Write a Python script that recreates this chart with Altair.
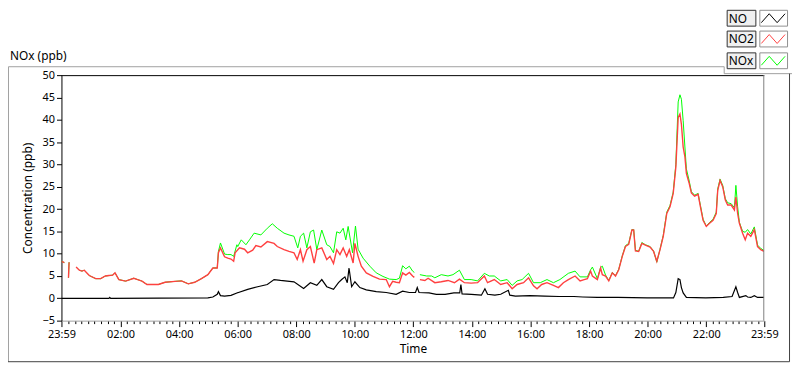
import altair as alt
import pandas as pd

# ---------------- data (hours since 23:59 of previous day, ppb) ----------------
no2_t = [0.00, 0.10, 0.17, 0.24, 0.26, 0.40, 0.50, 0.61, 0.70, 0.78, 0.95, 1.17, 1.34, 1.50, 1.62, 1.75, 1.83, 1.96,
         2.19, 2.47, 2.60, 2.75, 2.92, 3.10, 3.31, 3.54, 3.88, 4.10, 4.33, 4.55, 4.78, 5.00, 5.17, 5.32, 5.36, 5.43,
         5.57, 5.68, 5.79, 5.88, 5.93, 6.08, 6.25, 6.36, 6.53, 6.64, 6.81, 7.03, 7.26, 7.37, 7.60, 7.77, 7.94, 8.05,
         8.16, 8.25, 8.38, 8.50, 8.63, 8.72, 8.89, 9.06, 9.17, 9.29, 9.40, 9.51, 9.62, 9.74, 9.83, 9.96, 10.02, 10.13,
         10.24, 10.41, 10.64, 10.86, 11.09, 11.20, 11.31, 11.43, 11.54, 11.65, 11.76, 11.88, 11.99, 12.05, 12.15,
         12.24, 12.41, 12.52, 12.75, 12.97, 13.20, 13.42, 13.59, 13.76, 13.99, 14.21, 14.44, 14.55, 14.78, 15.00,
         15.22, 15.39, 15.56, 15.78, 15.95, 16.12, 16.24, 16.40, 16.58, 16.80, 16.97, 17.14, 17.31, 17.54, 17.71,
         17.85, 17.96, 18.07, 18.13, 18.30, 18.41, 18.47, 18.58, 18.69, 18.81, 18.92, 19.03, 19.15, 19.26, 19.37,
         19.48, 19.54, 19.60, 19.71, 19.82, 19.94, 20.10, 20.22, 20.33, 20.44, 20.55, 20.67, 20.78, 20.89, 20.98,
         21.06, 21.12, 21.17, 21.23, 21.29, 21.34, 21.43, 21.51, 21.62, 21.74, 21.82, 21.91, 22.02, 22.13, 22.25,
         22.36, 22.41, 22.49, 22.58, 22.67, 22.75, 22.87, 22.98, 23.03, 23.09, 23.15, 23.26, 23.35, 23.43, 23.54,
         23.66, 23.77, 23.88, 23.99]
no2_v = [8.3, 8.0, None, 4.6, 8.1, None, 7.0, 6.3, 6.1, 6.3, 5.1, 4.4, 4.4, 5.0, 5.1, 5.2, 5.7, 4.2,
         3.85, 4.5, 4.2, 3.85, 3.1, 3.1, 3.1, 3.6, 3.8, 3.9, 3.25, 3.6, 4.4, 5.3, 6.8, 6.8, 10.2, 11.3,
         9.3, 9.0, 8.8, 8.3, 10.2, 11.3, 11.0, 10.2, 10.8, 11.8, 11.5, 12.7, 12.3, 11.6, 10.9, 10.5, 10.2, 8.7,
         10.9, 8.3, 10.9, 11.6, 7.9, 10.9, 11.3, 8.7, 9.4, 7.8, 10.9, 9.8, 11.3, 9.4, 10.9, 7.9, 12.3, 9.4,
         7.2, 5.7, 4.9, 4.3, 4.2, 2.6, 3.8, 3.6, 3.5, 5.7, 5.2, 5.8, 5.0, 4.7, None,
         4.2, 4.0, 4.5, 3.5, 3.7, 4.0, 3.5, 4.3, 3.5, 3.4, 3.5, 5.0, 3.5, 4.2, 3.1,
         3.5, 2.15, 3.1, 3.5, 4.6, 2.8, 2.15, 3.1, 3.5, 2.9, 2.4, 3.5, 4.2, 5.0, 3.9,
         4.2, 4.4, 6.1, 5.0, 4.2, 6.8, 5.3, 5.0, 3.9, 5.7, 5.0, 6.4, 9.4, 11.6, 12.1,
         15.3, 15.3, 10.6, 10.5, 12.3, 11.9, 11.5, 10.5, 8.3, 10.9, 13.9, 19.0, 20.5, 23.5, 29.4,
         40.5, 41.3, 39.0, 33.9, 31.7, 28.0, 25.9, 23.6, 22.9, 23.3, 20.5, 17.5, 16.1, 16.8, 17.5,
         19.0, 24.2, 26.4, 25.0, 22.0, 20.9, 20.9, 19.8, 22.7, 19.0, 16.8, 14.6, 13.1, 14.6, 13.9,
         15.4, 11.6, 10.9, 10.5]

nox_t = [0.00, 0.10, 0.17, 0.24, 0.26, 0.40, 0.50, 0.61, 0.70, 0.78, 0.95, 1.17, 1.34, 1.50, 1.62, 1.75, 1.83, 1.96,
         2.19, 2.47, 2.60, 2.75, 2.92, 3.10, 3.31, 3.54, 3.88, 4.10, 4.33, 4.55, 4.78, 5.00, 5.17, 5.32, 5.36, 5.43,
         5.57, 5.68, 5.79, 5.88, 5.99, 6.02, 6.14, 6.30, 6.42, 6.58, 6.81, 7.03, 7.20, 7.37, 7.60, 7.77, 7.94, 8.07,
         8.16, 8.27, 8.38, 8.50, 8.61, 8.72, 8.89, 9.06, 9.17, 9.29, 9.40, 9.51, 9.62, 9.71, 9.79, 9.94, 10.04, 10.13,
         10.30, 10.53, 10.75, 10.98, 11.20, 11.43, 11.54, 11.65, 11.76, 11.88, 11.99, 12.05, 12.15,
         12.24, 12.47, 12.64, 12.75, 12.97, 13.20, 13.37, 13.59, 13.76, 13.99, 14.21, 14.44, 14.61, 14.78, 15.00,
         15.22, 15.39, 15.56, 15.73, 15.95, 16.12, 16.35, 16.58, 16.80, 17.02, 17.31, 17.54, 17.71, 17.96,
         18.07, 18.13, 18.30, 18.41, 18.47, 18.58, 18.69, 18.81, 18.92, 19.03, 19.15, 19.26, 19.37,
         19.48, 19.54, 19.60, 19.71, 19.82, 19.94, 20.10, 20.22, 20.33, 20.44, 20.55, 20.67, 20.78, 20.89, 20.98,
         21.06, 21.12, 21.17, 21.23, 21.29, 21.34, 21.43, 21.51, 21.62, 21.74, 21.82, 21.91, 22.02, 22.13, 22.25,
         22.36, 22.41, 22.49, 22.58, 22.67, 22.75, 22.87, 22.98, 23.03, 23.09, 23.15, 23.26, 23.35, 23.43, 23.54,
         23.66, 23.77, 23.88, 23.99]
nox_v = [8.3, 8.0, None, 4.6, 8.1, None, 7.0, 6.3, 6.1, 6.3, 5.1, 4.4, 4.4, 5.0, 5.1, 5.2, 5.7, 4.2,
         3.85, 4.5, 4.2, 3.85, 3.1, 3.1, 3.1, 3.6, 3.8, 3.9, 3.25, 3.6, 4.4, 5.3, 6.8, 6.8, 10.5, 12.4,
         9.9, 9.8, 9.8, 9.4, 12.0, 11.6, 13.1, 12.0, 13.1, 14.6, 14.2, 15.7, 16.7, 15.7, 14.6, 14.2, 13.9, 11.3,
         13.9, 14.6, 11.3, 14.9, 15.3, 10.9, 15.3, 12.0, 11.6, 10.2, 14.9, 14.6, 15.7, 13.1, 16.1, 10.2, 16.2, 11.0,
         9.0, 7.2, 5.7, 4.9, 4.3, 4.2, 4.5, 7.3, 6.6, 7.2, 6.1, 5.8, None,
         5.3, 5.0, 5.0, 4.6, 5.3, 5.0, 5.3, 6.3, 4.2, 4.2, 3.9, 5.6, 5.0, 5.0, 3.9,
         4.2, 2.9, 3.9, 4.2, 5.6, 3.5, 3.5, 4.2, 3.5, 4.2, 5.6, 6.1, 4.8, 4.8,
         6.4, 7.0, 4.4, 6.9, 7.2, 5.2, 4.0, 5.8, 5.1, 6.5, 9.5, 11.8, 12.3,
         15.4, 15.4, 10.8, 10.5, 12.5, 12.0, 11.6, 10.6, 8.1, 11.0, 14.1, 19.3, 20.8, 23.8, 30.0,
         44.0, 45.6, 44.6, 39.8, 33.9, 29.0, 26.5, 23.9, 23.1, 23.5, 20.8, 17.7, 16.2, 17.0, 17.7,
         19.3, 24.5, 26.7, 25.3, 22.3, 21.4, 21.2, 20.3, 25.3, 20.5, 17.0, 15.0, 14.8, 15.4, 14.4,
         16.0, 11.9, 11.2, 10.7]

no_t = [0.00, 1.62, 1.65, 1.68, 5.00, 5.17, 5.32, 5.36, 5.43, 5.57, 5.79, 5.99, 6.02, 6.36, 6.70, 7.03, 7.26, 7.48,
        7.71, 7.94, 8.27, 8.50, 8.72, 8.89, 9.06, 9.29, 9.46, 9.57, 9.68, 9.76, 9.82, 9.91, 10.02, 10.19, 10.41,
        10.75, 11.09, 11.43, 11.65, 11.88, 12.09, 12.15, 12.21, 12.55, 12.80, 13.10, 13.40, 13.60, 13.64, 13.68,
        14.00, 14.34, 14.46, 14.55, 14.80, 15.00, 15.26, 15.31, 15.50, 16.00, 16.50, 17.00, 17.50, 17.80, 18.30,
        19.00, 20.00, 20.90, 20.98, 21.06, 21.12, 21.17, 21.23, 21.34, 22.00, 22.60, 22.90, 23.03, 23.09, 23.15,
        23.37, 23.43, 23.54, 23.66, 23.77, 23.99]
no_v = [0.0, 0.0, 0.2, 0.0, 0.1, 0.3, 0.9, 1.5, 0.6, 0.5, 0.65, 1.2, 1.26, 2.0, 2.6, 3.1, 4.2, 4.0,
        3.85, 3.7, 2.2, 3.5, 2.9, 4.2, 2.6, 2.0, 3.5, 4.2, 4.8, 3.5, 6.8, 2.6, 3.7, 2.4, 1.9,
        1.5, 1.3, 0.9, 1.6, 1.3, 1.3, 2.4, 1.3, 1.2, 0.9, 0.9, 1.2, 1.2, 3.1, 1.0,
        0.9, 0.7, 2.15, 0.9, 0.7, 0.9, 1.8, 0.7, 0.5, 0.6, 0.5, 0.4, 0.4, 0.3, 0.2,
        0.2, 0.1, 0.1, 1.3, 4.4, 4.2, 2.4, 1.2, 0.2, 0.1, 0.2, 0.4, 2.6, 1.3, 0.2,
        0.6, 0.3, 0.2, 0.6, 0.2, 0.2]

series_names = ["NO", "NO2", "NOx"]
series_colors = ["#000000", "#ff4040", "#00ff00"]
series_widths = [1.2, 1.4, 1.0]
y_ticks = [-5, 0, 5, 10, 15, 20, 25, 30, 35, 40, 45, 50]

# ---------------- build tables ----------------
BASE = pd.Timestamp("2024-01-01 23:59", tz="UTC").value // 10**6
HOUR = 3600000
END = BASE + 24 * HOUR


def table(name, ts, vs):
    rows, seg = [], 0
    for t, v in zip(ts, vs):
        if v is None:
            seg += 1
            continue
        rows.append({"time": BASE + round(t * HOUR), "value": v, "series": name, "seg": f"{name}-{seg}"})
    return pd.DataFrame(rows)


df_no = table("NO", no_t, no_v)
df_no2 = table("NO2", no2_t, no2_v)
df_nox = table("NOx", nox_t, nox_v)

# axis tick values: majors on even hours, minors every 2h/9
midnight = BASE + 60000
tick_vals = [BASE]
for k in range(1, 108):
    tick_vals.append(midnight + k * 800000)
tick_vals.append(END)

MAJOR = ("utcminutes(datum.value) == 59 || (utcminutes(datum.value) == 0 && "
         "utcseconds(datum.value) == 0 && utchours(datum.value) % 2 == 0)")

FONT = "Noto Sans"
W, H = 710, 248
PAD_L, PAD_T = 54, 66

x_enc = alt.X(
    "time:T",
    scale=alt.Scale(type="utc", domain=[BASE, END], nice=False),
    axis=alt.Axis(
        values=tick_vals,
        labelExpr=f"({MAJOR}) ? utcFormat(datum.value, '%H:%M') : ''",
        labelOverlap=False, labelFlush=False, labelFontSize=11, labelFont=FONT,
        labelColor="#000000", labelPadding=2,
        tickSize={"condition": {"test": MAJOR, "value": 6}, "value": 3},
        tickColor="#000000", domainColor="#a0a0a0", grid=False,
        title="Time", titleFont=FONT, titleFontSize=12, titleFontWeight="normal",
        titleColor="#000000", titlePadding=4,
    ),
)
y_enc = alt.Y(
    "value:Q",
    scale=alt.Scale(domain=[-5, 50], nice=False, zero=False),
    axis=alt.Axis(
        values=y_ticks, labelFontSize=11, labelFont=FONT, labelColor="#000000", labelPadding=2,
        tickSize=5, tickColor="#000000", domainColor="#000000", grid=False,
        title="Concentration (ppb)", titleFont=FONT, titleFontSize=12, titleFontWeight="normal",
        titleColor="#000000", titlePadding=8,
    ),
)


def series_layer(df, color, width):
    return alt.Chart(df).mark_line(strokeWidth=width, color=color, clip=True, interpolate="linear").encode(
        x=x_enc, y=y_enc, detail="seg:N"
    )


lines = [
    series_layer(df_nox, series_colors[2], series_widths[2]),
    series_layer(df_no2, series_colors[1], series_widths[1]),
    series_layer(df_no, series_colors[0], series_widths[0]),
]

one = alt.Data(values=[{"a": 1}])


def rule(x, y, x2, y2, color, width=1):
    return alt.Chart(one).mark_rule(color=color, strokeWidth=width).encode(
        x=alt.value(x), y=alt.value(y), x2=alt.value(x2), y2=alt.value(y2)
    )


def box(x, y, x2, y2, fill, stroke):
    return alt.Chart(one).mark_rect(fill=fill, stroke=stroke, strokeWidth=1).encode(
        x=alt.value(x), y=alt.value(y), x2=alt.value(x2), y2=alt.value(y2)
    )


def label(x, y, txt, size, align="left"):
    return alt.Chart(one).mark_text(font=FONT, fontSize=size, align=align, baseline="middle",
                                    color="#000000").encode(
        x=alt.value(x), y=alt.value(y), text=alt.value(txt)
    )


deco = []
# plot frame: top & right
deco.append(rule(0, 0.5, W, 0.5, "#000000"))
deco.append(rule(W - 0.5, 0, W - 0.5, H, "#808080"))
# outer panel frame
deco.append(rule(-53.5, -8.5, 669.5, -8.5, "#a0a0a0"))
deco.append(rule(669.5, -8.5, 669.5, -1.5, "#a0a0a0"))
deco.append(rule(669.5, -1.5, 740, -1.5, "#a0a0a0"))
deco.append(rule(-53.5, -8.5, -53.5, 289.5, "#a0a0a0"))
deco.append(rule(-54, 289.5, 735.5, 289.5, "#404040"))
deco.append(rule(735.5, -1.5, 735.5, 289.5, "#404040"))
# panel title
deco.append(label(-52, -19, "NOx (ppb)", 12))

# legend (LabVIEW style plot legend)
row_tops = [-66, -45, -23]
for name, color, top in zip(series_names, series_colors, row_tops):
    deco.append(box(672.5, top + 0.5, 701.5, top + 16.5, "#f0f0f0", "#303030"))
    deco.append(label(674, top + 9, name, 12))
    deco.append(box(705.5, top + 0.5, 733.5, top + 16.5, "#ffffff", "#909090"))
    pts = [(707, top + 13), (715, top + 4), (723, top + 13), (731, top + 4)]
    for (ax, ay), (bx, by) in zip(pts[:-1], pts[1:]):
        deco.append(rule(ax, ay, bx, by, color))

chart = alt.layer(*lines, *deco).properties(
    width=W, height=H,
    autosize=alt.AutoSizeParams(type="none"),
    padding={"left": PAD_L, "top": PAD_T, "right": 28, "bottom": 43},
    background="#ffffff",
).configure_view(stroke=None)

chart.save("out.html", embed_options={"renderer": "svg", "actions": False})
